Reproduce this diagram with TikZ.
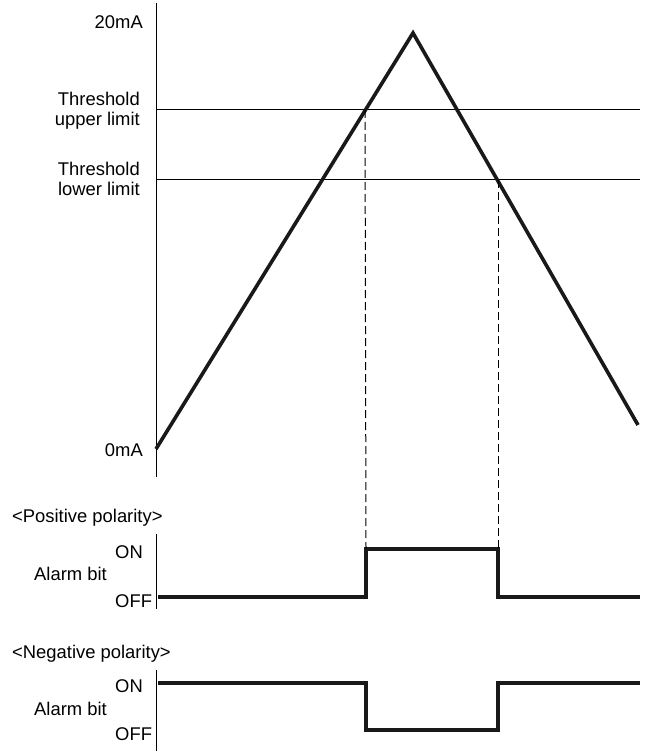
\documentclass[tikz,border=0pt]{standalone}
\usepackage{fontspec}
\setmainfont{Liberation Sans}
\usepackage{tikz}
\usetikzlibrary{arrows.meta, positioning, calc}

\tikzset{
    lbl/.style={inner sep=0pt, font=\fontsize{18.4}{20}\selectfont},
    signal/.style={line width=3.6pt, line join=miter, color=black!90},
    guide/.style={line width=1pt, dash pattern=on 8pt off 4pt},
}

\begin{document}
\begin{tikzpicture}[x=1pt, y=-1pt, line cap=butt]
    \useasboundingbox (0,0) rectangle (646,751);

    % Points of the analog signal
    \coordinate (top) at (156,3);
    \coordinate (bot) at (156,477);
    \coordinate (start) at (156,449);
    \coordinate (peak) at (413,33);
    \coordinate (stop) at (638,425);
    \coordinate (up0) at (156,110);
    \coordinate (up1) at (640,110);
    \coordinate (lo0) at (156,180);
    \coordinate (lo1) at (640,180);
    \coordinate (cross1) at (365,110);
    \coordinate (cross2) at (498,180);

    % Axes
    \draw[line width=1pt] (top) -- (bot);
    \draw[line width=1pt] (up0) -- (up1);
    \draw[line width=1pt] (lo0) -- (lo1);

    % Labels of the analog axis
    \node[lbl, anchor=base east] (ma20) at (143,29) {20mA};
    \node[lbl, anchor=base east, align=right] (upper) at (140,126) {Threshold\\upper limit};
    \node[lbl, anchor=base east, align=right] (lower) at (140,196) {Threshold\\lower limit};
    \node[lbl, anchor=base east] (ma0) at (143,456) {0mA};

    % Triangle
    \draw[signal] (start) -- (peak) -- (stop);

    % Positive polarity
    \node[lbl, anchor=base west] (pos) at (12,522) {<Positive polarity>};
    \node[lbl, anchor=base west] (pon) at (115,558) {ON};
    \node[lbl, anchor=base west] (pbit) at (34,580) {Alarm bit};
    \node[lbl, anchor=base west] (poff) at (115,607) {OFF};
    \draw[line width=1pt] (156,534) coordinate (ptop) -- (156,609) coordinate (pbot);
    \foreach \name/\x/\y in {p0/158/597, p1/366/597, p2/366/549, p3/498/549, p4/498/597, p5/640/597}{
        \coordinate (\name) at (\x,\y);
    }
    \draw[signal] (p0) -- (p1) -- (p2) -- (p3) -- (p4) -- (p5);

    % Negative polarity
    \node[lbl, anchor=base west] (neg) at (12,658) {<Negative polarity>};
    \node[lbl, anchor=base west] (non) at (115,692) {ON};
    \node[lbl, anchor=base west] (nbit) at (34,715) {Alarm bit};
    \node[lbl, anchor=base west] (noff) at (115,740) {OFF};
    \draw[line width=1pt] (156,670) coordinate (ntop) -- (156,751) coordinate (nbot);
    \foreach \name/\x/\y in {n0/158/683, n1/366/683, n2/366/730, n3/498/730, n4/498/683, n5/640/683}{
        \coordinate (\name) at (\x,\y);
    }
    \draw[signal] (n0) -- (n1) -- (n2) -- (n3) -- (n4) -- (n5);

    % Dashed guides
    \draw[guide] (cross1) -- (p2);
    \draw[guide] (cross2) -- (p3);

\end{tikzpicture}
\end{document}
